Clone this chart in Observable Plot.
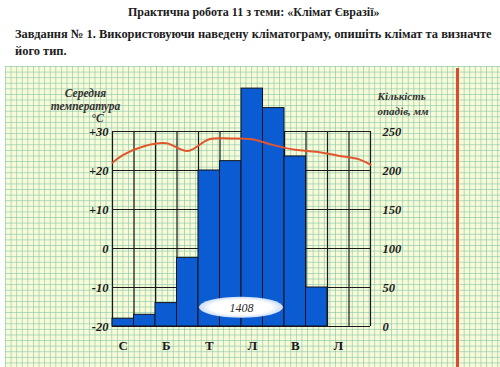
<!DOCTYPE html>
<html><head><meta charset="utf-8">
<script src="https://cdn.jsdelivr.net/npm/d3@7"></script>
<script src="https://cdn.jsdelivr.net/npm/@observablehq/plot@0.6"></script>
<style>
body{margin:0;background:#fff;}
#wrap{position:relative;width:500px;height:367px;overflow:hidden;font-family:"Liberation Serif","Times New Roman",serif;background:#fff;}
.h{position:absolute;font-weight:bold;font-size:12px;line-height:14px;color:#1c1c1c;white-space:nowrap;}
.h2{font-size:12.45px;}
#paper{position:absolute;left:5px;top:66px;width:495px;height:301px;background-color:#f8fbd8;
 background-image:linear-gradient(to right, rgba(140,200,175,0.7) 1px, transparent 1px),linear-gradient(to bottom, rgba(140,200,175,0.7) 1px, transparent 1px);
 background-size:5.6px 5.6px;}
#chart{position:absolute;left:0;top:66px;}
#redline{position:absolute;left:456px;top:68px;width:3px;height:300px;background:#df4a2e;}
</style></head>
<body>
<div id="wrap">
  <div class="h" style="left:128px;top:5px;">Практична робота 11 з теми: «Клімат Євразії»</div>
  <div class="h h2" style="left:15px;top:27px;">Завдання № 1. Використовуючи наведену кліматограму, опишіть клімат та визначте</div>
  <div class="h h2" style="left:15px;top:44px;">його тип.</div>
  <div id="paper"></div>
  <div id="redline"></div>
  <div id="chart"></div>
</div>
<script>
// ---- data ----
const months = ["Січень","Лютий","Березень","Квітень","Травень","Червень","Липень","Серпень","Вересень","Жовтень","Листопад","Грудень"];
const precipitation = [10, 15, 30, 88, 200, 212, 305, 280, 218, 50, 0, 0]; // mm
const temperature = [24.0, 26.3, 27.0, 25.0, 28.0, 28.2, 28.0, 26.5, 25.3, 24.8, 23.8, 22.8]; // °C
const tempAtYearStart = 22.0;
const tempAtYearEnd = 21.5;
const monthTickIndex = [0, 2, 4, 6, 8, 10];
const monthTickLabels = ["С", "Б", "Т", "Л", "В", "Л"];
const tempTicks = [-20, -10, 0, 10, 20, 30];
const tempTickLabels = ["-20", "-10", "0", "+10", "+20", "+30"];
const precipTicks = [0, 50, 100, 150, 200, 250];
const precipTickLabels = ["0", "50", "100", "150", "200", "250"];
const annualTotal = "1408";
const leftTitle = ["Середня", "температура", "°C"];
const rightTitle = ["Кількість", "опадів, мм"];

// temperature -> precipitation axis units
const t2p = t => (t + 20) * 5;

const bars = months.map((m, i) => ({x1: i, x2: i + 1, p: precipitation[i]}));
const tempLine = [{x: 0, t: tempAtYearStart}]
  .concat(temperature.map((t, i) => ({x: i + 0.5, t})))
  .concat([{x: months.length, t: tempAtYearEnd}]);
const leftLabelMap = new Map(tempTicks.map((t, i) => [t2p(t), tempTickLabels[i]]));
const rightLabelMap = new Map(precipTicks.map((p, i) => [p, precipTickLabels[i]]));
const xLabelMap = new Map(monthTickIndex.map((i, k) => [i + 0.5, monthTickLabels[k]]));

const serif = "Liberation Serif, Times New Roman, serif";

const ellipseMark = Plot.dot([{x: 6, y: 24}], {
  x: "x", y: "y",
  render: (index, scales, values, dims, context, next) => {
    const cx = values.x[0], cy = values.y[0];
    const g = d3.create("svg:g");
    const defs = g.append("defs");
    const rg = defs.append("radialGradient").attr("id", "ovalGrad");
    rg.append("stop").attr("offset", "0%").attr("stop-color", "#ffffff");
    rg.append("stop").attr("offset", "72%").attr("stop-color", "#ffffff");
    rg.append("stop").attr("offset", "100%").attr("stop-color", "#c9dcf4");
    g.append("ellipse").attr("cx", cx).attr("cy", cy).attr("rx", 42).attr("ry", 10.5).attr("fill", "url(#ovalGrad)");
    return g.node();
  }
});

const chart = Plot.plot({
  width: 500,
  height: 301,
  marginLeft: 112,
  marginRight: 130,
  marginTop: 65,
  marginBottom: 41,
  style: {background: "transparent", overflow: "visible", fontFamily: serif},
  x: {domain: [0, 12], axis: null},
  y: {domain: [0, 250], axis: null},
  marks: [
    Plot.ruleY(precipTicks, {stroke: "#1a1a1a", strokeWidth: 1.2}),
    Plot.ruleX(d3.range(months.length + 1), {y1: 0, y2: 250, stroke: "#1a1a1a", strokeWidth: 1.2}),
    Plot.rectY(bars, {x1: "x1", x2: "x2", y1: 0, y2: "p", fill: "#0b5bd3", stroke: "#10131a", strokeWidth: 1}),
    Plot.line(tempLine, {x: "x", y: d => t2p(d.t), curve: "catmull-rom", stroke: "#e2562e", strokeWidth: 2}),
    ellipseMark,
    Plot.text([annualTotal], {x: 6, y: 24, text: d => d, fontSize: 12, fontStyle: "italic", fill: "#2a2a2a", fontFamily: serif}),
    Plot.axisY(tempTicks.map(t2p), {anchor: "left", tickSize: 0, tickPadding: 4, label: null,
      tickFormat: d => leftLabelMap.get(d), fontSize: 12.5, fontStyle: "italic", fontWeight: "bold", fill: "#1a1a1a", fontFamily: serif}),
    Plot.axisY(precipTicks, {anchor: "right", tickSize: 0, tickPadding: 12, label: null,
      tickFormat: d => rightLabelMap.get(d), fontSize: 12.5, fontStyle: "italic", fontWeight: "bold", fill: "#1a1a1a", fontFamily: serif}),
    Plot.axisX(monthTickIndex.map(i => i + 0.5), {anchor: "bottom", tickSize: 0, tickPadding: 14, label: null,
      tickFormat: d => xLabelMap.get(d), fontSize: 13, fontWeight: "bold", fill: "#1a1a1a", fontFamily: serif}),
    Plot.text([leftTitle[0]], {frameAnchor: "top-left", dx: -27, dy: -38, text: d => d, textAnchor: "middle", lineAnchor: "middle", fontSize: 11.5, fontStyle: "italic", fontWeight: "bold", fill: "#333", fontFamily: serif}),
    Plot.text([leftTitle[1]], {frameAnchor: "top-left", dx: -27, dy: -25, text: d => d, textAnchor: "middle", lineAnchor: "middle", fontSize: 11.5, fontStyle: "italic", fontWeight: "bold", fill: "#333", fontFamily: serif}),
    Plot.text([leftTitle[2]], {frameAnchor: "top-left", dx: -15, dy: -13, text: d => d, textAnchor: "middle", lineAnchor: "middle", fontSize: 11.5, fontStyle: "italic", fontWeight: "bold", fill: "#333", fontFamily: serif}),
    Plot.text([rightTitle[0]], {frameAnchor: "top-right", dx: 7, dy: -35, text: d => d, textAnchor: "start", lineAnchor: "middle", fontSize: 11, fontStyle: "italic", fontWeight: "bold", fill: "#333", fontFamily: serif}),
    Plot.text([rightTitle[1]], {frameAnchor: "top-right", dx: 7, dy: -20, text: d => d, textAnchor: "start", lineAnchor: "middle", fontSize: 11, fontStyle: "italic", fontWeight: "bold", fill: "#333", fontFamily: serif})
  ]
});
document.getElementById("chart").appendChild(chart);
</script>
</body></html>
